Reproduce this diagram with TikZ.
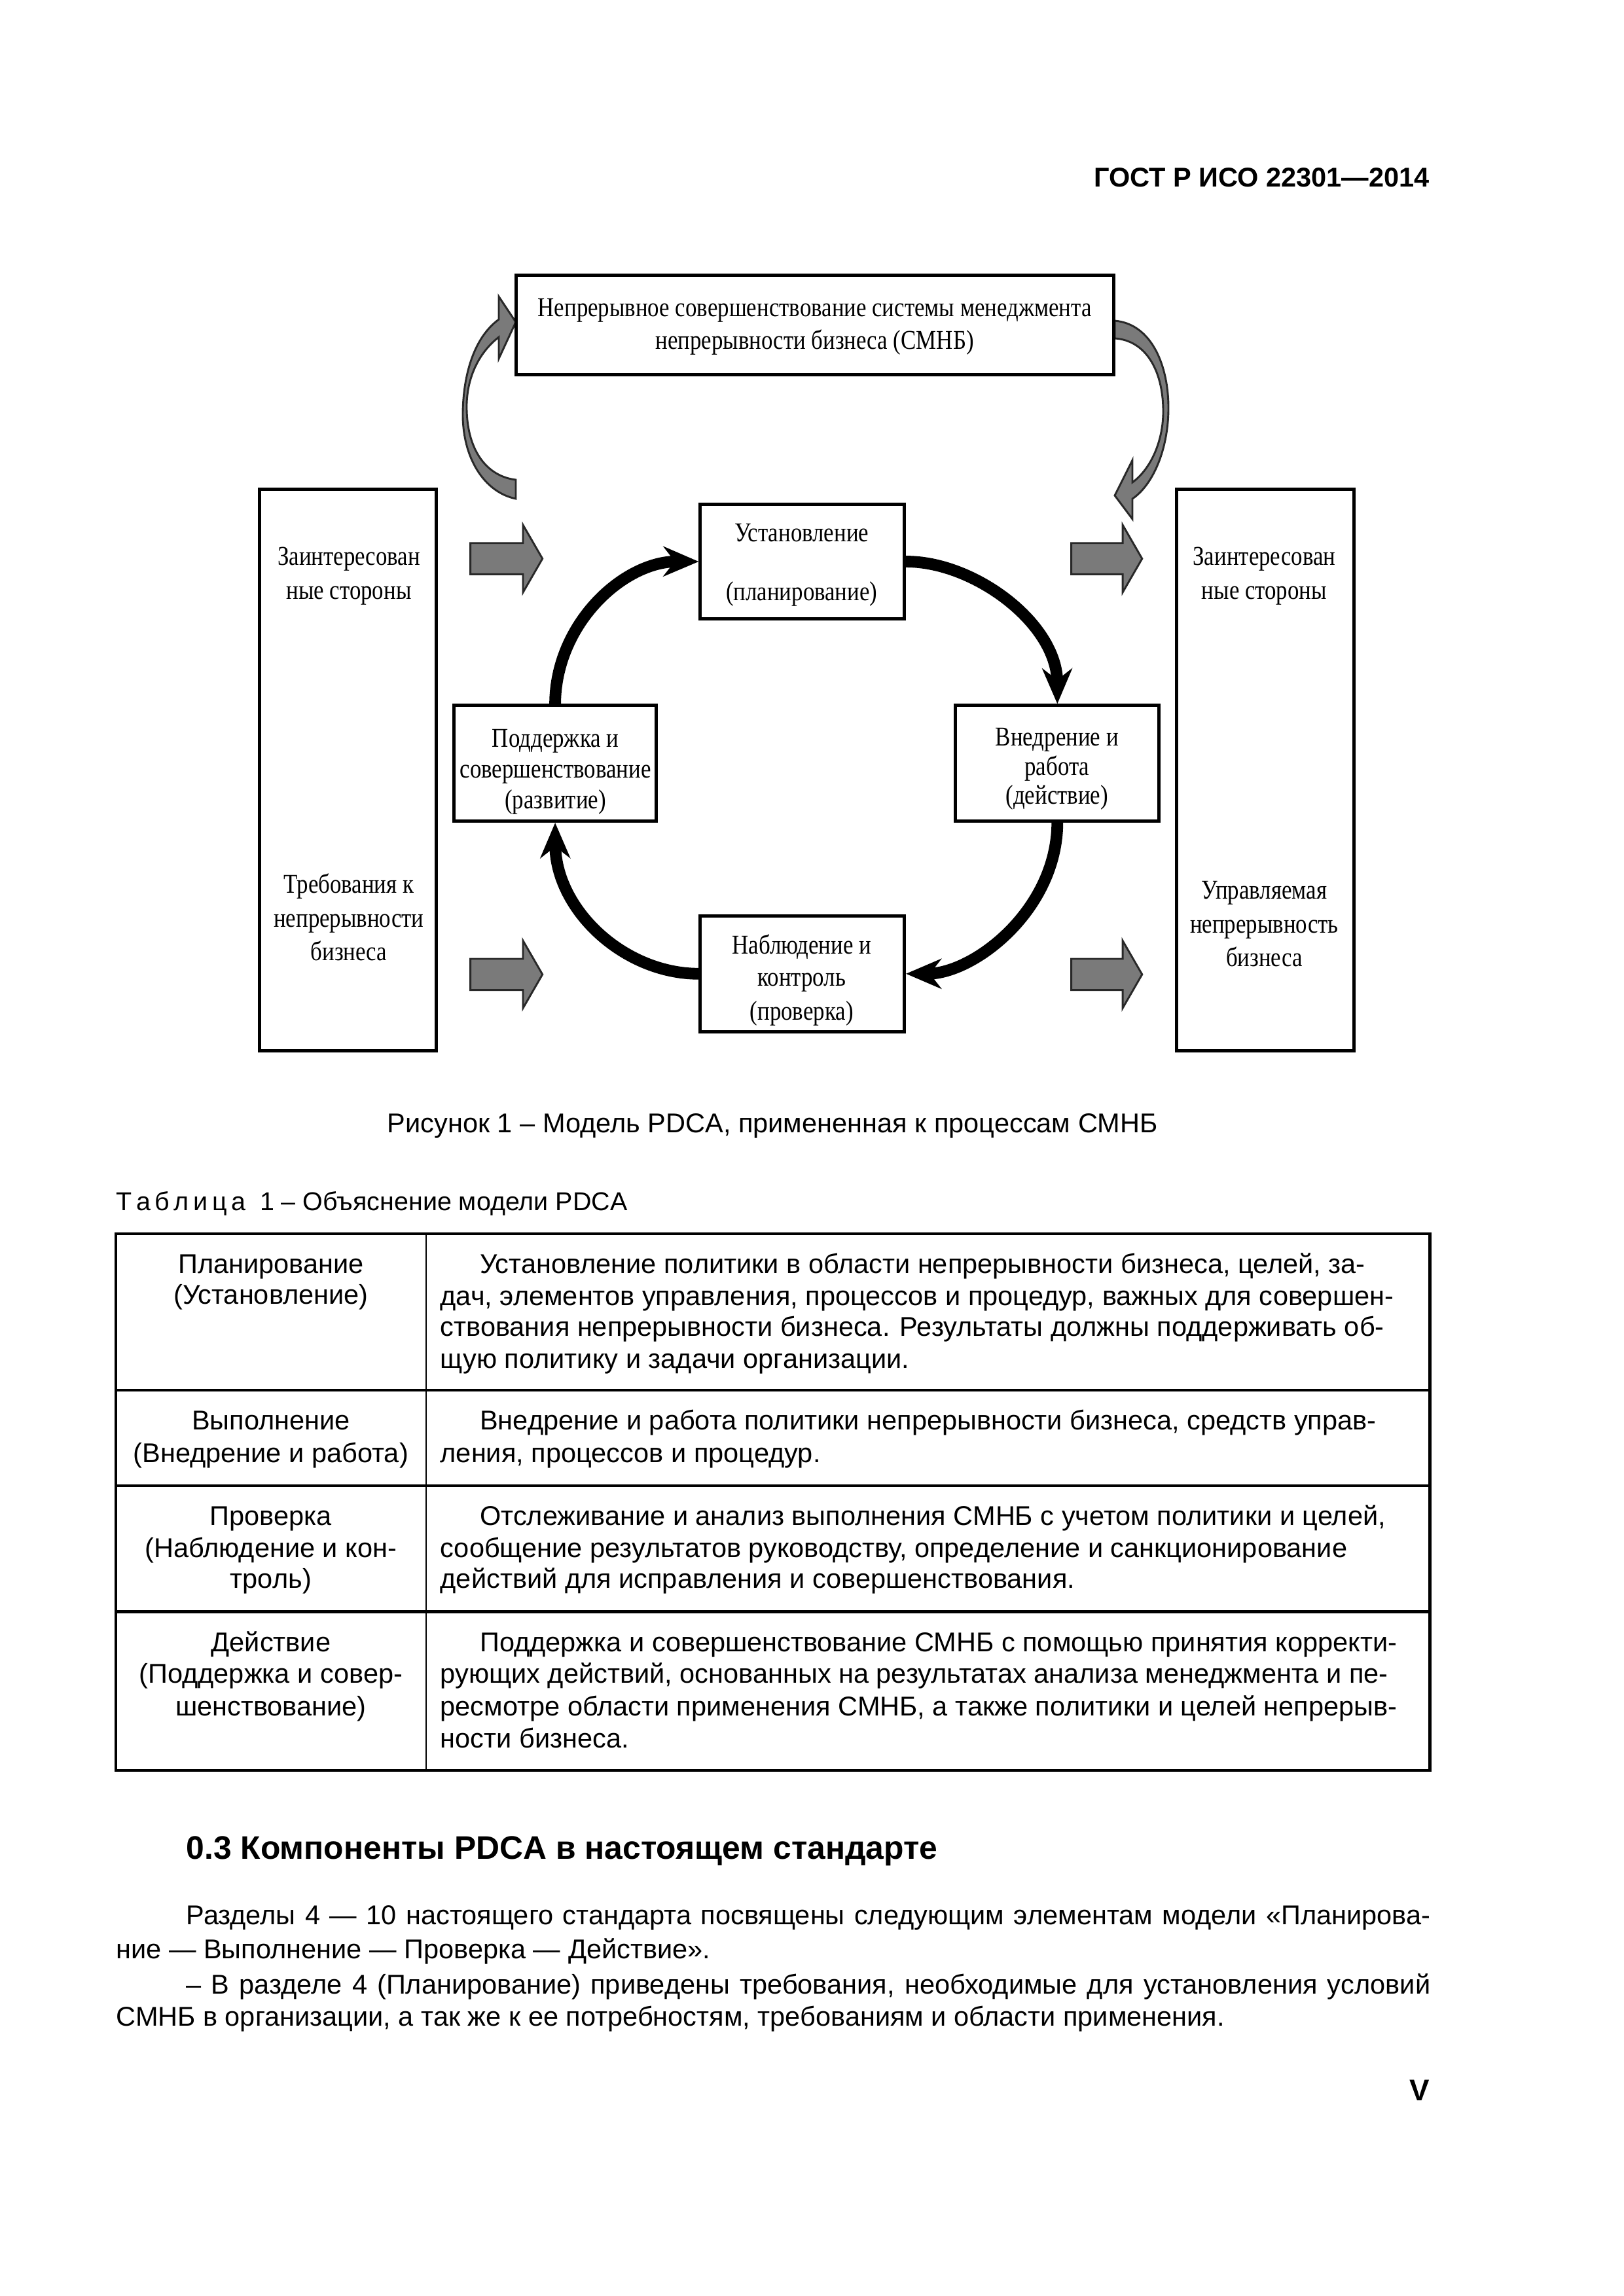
\documentclass[tikz,border=0pt]{standalone}
\usepackage{fontspec}
\setmainfont{Liberation Sans}
\newfontfamily\diagfont[FakeStretch=0.84]{Liberation Serif}
\usetikzlibrary{arrows.meta,fit}
\begin{document}
\begin{tikzpicture}[x=0.08401mm,y=-0.08401mm,
  box/.style={draw=black,line width=1.2pt,fill=white,inner sep=0pt},
  dtxt/.style={font=\diagfont\fontsize{10}{12}\selectfont,anchor=mid,inner sep=0pt},
  ttxt/.style={font=\fontsize{10}{12}\selectfont,inner sep=0pt},
  ctxt/.style={ttxt,anchor=mid},
  ltxt/.style={ttxt,anchor=mid west},
  cyc/.style={line width=4.3pt,-{Stealth[length=13pt,width=11pt]}},
  garrow/.style={fill={rgb,255:red,122;green,122;blue,122},draw={rgb,255:red,40;green,40;blue,40},line width=0.7pt,line join=miter},
  tline/.style={line width=1pt},
  vline/.style={line width=0.6pt},
]
\useasboundingbox[fill=white] (0,0) rectangle (2499.7,3534.5);

% header
\node[font=\bfseries\fontsize{10}{12}\selectfont,anchor=mid east,inner sep=0pt] (hdr) at (2201,277) {ГОСТ Р ИСО 22301—2014};

% curved gray arrows (true pixel coordinates)
\begin{scope}[scale=1.00756]
\filldraw[garrow] (788,762) .. controls (740,752) and (706,700) .. (707,630)
  .. controls (708,570) and (725,515) .. (762,488) -- (762,453) -- (788,492) -- (762,548) -- (762,515)
  .. controls (730,540) and (712,580) .. (713,625)
  .. controls (714,690) and (745,728) .. (788,733) -- cycle;
\filldraw[garrow] (1703,490) .. controls (1760,495) and (1786,560) .. (1785,627)
  .. controls (1784,690) and (1760,742) .. (1730,762) -- (1730,793) -- (1703,757) -- (1730,703) -- (1730,737)
  .. controls (1760,715) and (1778,670) .. (1777,625)
  .. controls (1776,565) and (1750,520) .. (1703,517) -- cycle;
\end{scope}

% boxes
\node[box,fit={(794,424) (1714,577)}] (top) {};
\node[box,fit={(399,753) (672,1618)}] (lbox) {};
\node[box,fit={(1811,753) (2084,1618)}] (rbox) {};
\node[box,fit={(1078,776) (1392,953)}] (plan) {};
\node[box,fit={(699,1086) (1010,1264)}] (act) {};
\node[box,fit={(1471,1086) (1784,1264)}] (do) {};
\node[box,fit={(1078,1410) (1392,1588)}] (chk) {};

% texts in diagram
\node[dtxt] (t1) at (1254,476) {Непрерывное совершенствование системы менеджмента};
\node[dtxt] (t2) at (1254,526) {непрерывности бизнеса (СМНБ)};
\node[dtxt] (l1) at (537,859) {Заинтересован};
\node[dtxt] (l2) at (537,911) {ные стороны};
\node[dtxt] (l3) at (537,1364) {Требования к};
\node[dtxt] (l4) at (537,1416) {непрерывности};
\node[dtxt] (l5) at (537,1468) {бизнеса};
\node[dtxt] (r1) at (1946,859) {Заинтересован};
\node[dtxt] (r2) at (1946,911) {ные стороны};
\node[dtxt] (r3) at (1946,1373) {Управляемая};
\node[dtxt] (r4) at (1946,1425) {непрерывность};
\node[dtxt] (r5) at (1946,1477) {бизнеса};
\node[dtxt] (p1) at (1234,823) {Установление};
\node[dtxt] (p2) at (1234,913) {(планирование)};
\node[dtxt] (a1) at (855,1139) {Поддержка и};
\node[dtxt] (a2) at (855,1186) {совершенствование};
\node[dtxt] (a3) at (855,1234) {(развитие)};
\node[dtxt] (d1) at (1627,1137) {Внедрение и};
\node[dtxt] (d2) at (1627,1182) {работа};
\node[dtxt] (d3) at (1627,1227) {(действие)};
\node[dtxt] (c1) at (1234,1457) {Наблюдение и};
\node[dtxt] (c2) at (1234,1507) {контроль};
\node[dtxt] (c3) at (1234,1559) {(проверка)};

% cycle arrows
\draw[cyc] (act.north) .. controls (855,960) and (960,864) .. (plan.west);
\draw[cyc] (plan.east) .. controls (1500,864) and (1627,960) .. (do.north);
\draw[cyc] (do.south) .. controls (1627,1400) and (1500,1499) .. (chk.east);
\draw[cyc] (chk.west) .. controls (960,1499) and (855,1400) .. (act.south);

% straight gray arrows
\filldraw[garrow] (724,836) -- (805,836) -- (805,808) -- (835,860) -- (805,912) -- (805,884) -- (724,884) -- cycle;
\filldraw[garrow] (724,1476) -- (805,1476) -- (805,1448) -- (835,1500) -- (805,1552) -- (805,1524) -- (724,1524) -- cycle;
\filldraw[garrow] (1649,836) -- (1728,836) -- (1728,808) -- (1758,860) -- (1728,912) -- (1728,884) -- (1649,884) -- cycle;
\filldraw[garrow] (1649,1476) -- (1728,1476) -- (1728,1448) -- (1758,1500) -- (1728,1552) -- (1728,1524) -- (1649,1524) -- cycle;

% caption
\node[ctxt] (cap) at (1189,1732) {Рисунок 1 – Модель PDCA, примененная к процессам СМНБ};
\node[font=\fontsize{9.5}{12}\selectfont,anchor=mid west,inner sep=0pt] (ttl) at (178,1852) {Т\,а\,б\,л\,и\,ц\,а\ \ 1 – Объяснение модели PDCA};

% table
\draw[tline] (178,1899) rectangle (2201,2725);
\draw[tline] (178,2140) -- (2201,2140);
\draw[tline] (178,2287) -- (2201,2287);
\draw[tline] (178,2481) -- (2201,2481);
\draw[vline] (656,1899) -- (656,2725);

\node[ctxt] (k1a) at (417,1949) {Планирование};
\node[ctxt] (k1b) at (417,1996) {(Установление)};
\node[ltxt] (v1a) at (738,1949) {Установление политики в области непрерывности бизнеса, целей, за-};
\node[ltxt] (v1b) at (677,1998) {дач, элементов управления, процессов и процедур, важных для совершен-};
\node[ltxt] (v1c) at (677,2046) {ствования непрерывности бизнеса. Результаты должны поддерживать об-};
\node[ltxt] (v1d) at (677,2095) {щую политику и задачи организации.};

\node[ctxt] (k2a) at (417,2190) {Выполнение};
\node[ctxt] (k2b) at (417,2240) {(Внедрение и работа)};
\node[ltxt] (v2a) at (738,2190) {Внедрение и работа политики непрерывности бизнеса, средств управ-};
\node[ltxt] (v2b) at (677,2240) {ления, процессов и процедур.};

\node[ctxt] (k3a) at (417,2337) {Проверка};
\node[ctxt] (k3b) at (417,2386) {(Наблюдение и кон-};
\node[ctxt] (k3c) at (417,2434) {троль)};
\node[ltxt] (v3a) at (738,2337) {Отслеживание и анализ выполнения СМНБ с учетом политики и целей,};
\node[ltxt] (v3b) at (677,2386) {сообщение результатов руководству, определение и санкционирование};
\node[ltxt] (v3c) at (677,2434) {действий для исправления и совершенствования.};

\node[ctxt] (k4a) at (417,2531) {Действие};
\node[ctxt] (k4b) at (417,2580) {(Поддержка и совер-};
\node[ctxt] (k4c) at (417,2630) {шенствование)};
\node[ltxt] (v4a) at (738,2531) {Поддержка и совершенствование СМНБ с помощью принятия корректи-};
\node[ltxt] (v4b) at (677,2580) {рующих действий, основанных на результатах анализа менеджмента и пе-};
\node[ltxt] (v4c) at (677,2630) {ресмотре области применения СМНБ, а также политики и целей непрерыв-};
\node[ltxt] (v4d) at (677,2680) {ности бизнеса.};

% section
\node[font=\bfseries\fontsize{12}{14}\selectfont,anchor=mid west,inner sep=0pt] (sec) at (286,2851) {0.3 Компоненты PDCA в настоящем стандарте};
\node[ltxt] (s1) at (286,2952) {\makebox[160.9mm][s]{Разделы 4 — 10 настоящего стандарта посвящены следующим элементам модели «Планирова-}};
\node[ltxt] (s2) at (178,3004) {ние — Выполнение — Проверка — Действие».};
\node[ltxt] (s3) at (286,3058) {\makebox[160.9mm][s]{– В разделе 4 (Планирование) приведены требования, необходимые для установления условий}};
\node[ltxt] (s4) at (178,3108) {СМНБ в организации, а так же к ее потребностям, требованиям и области применения.};

\node[font=\bfseries\fontsize{11}{13}\selectfont,anchor=mid east,inner sep=0pt] (pg) at (2201,3223) {V};
\end{tikzpicture}
\end{document}
